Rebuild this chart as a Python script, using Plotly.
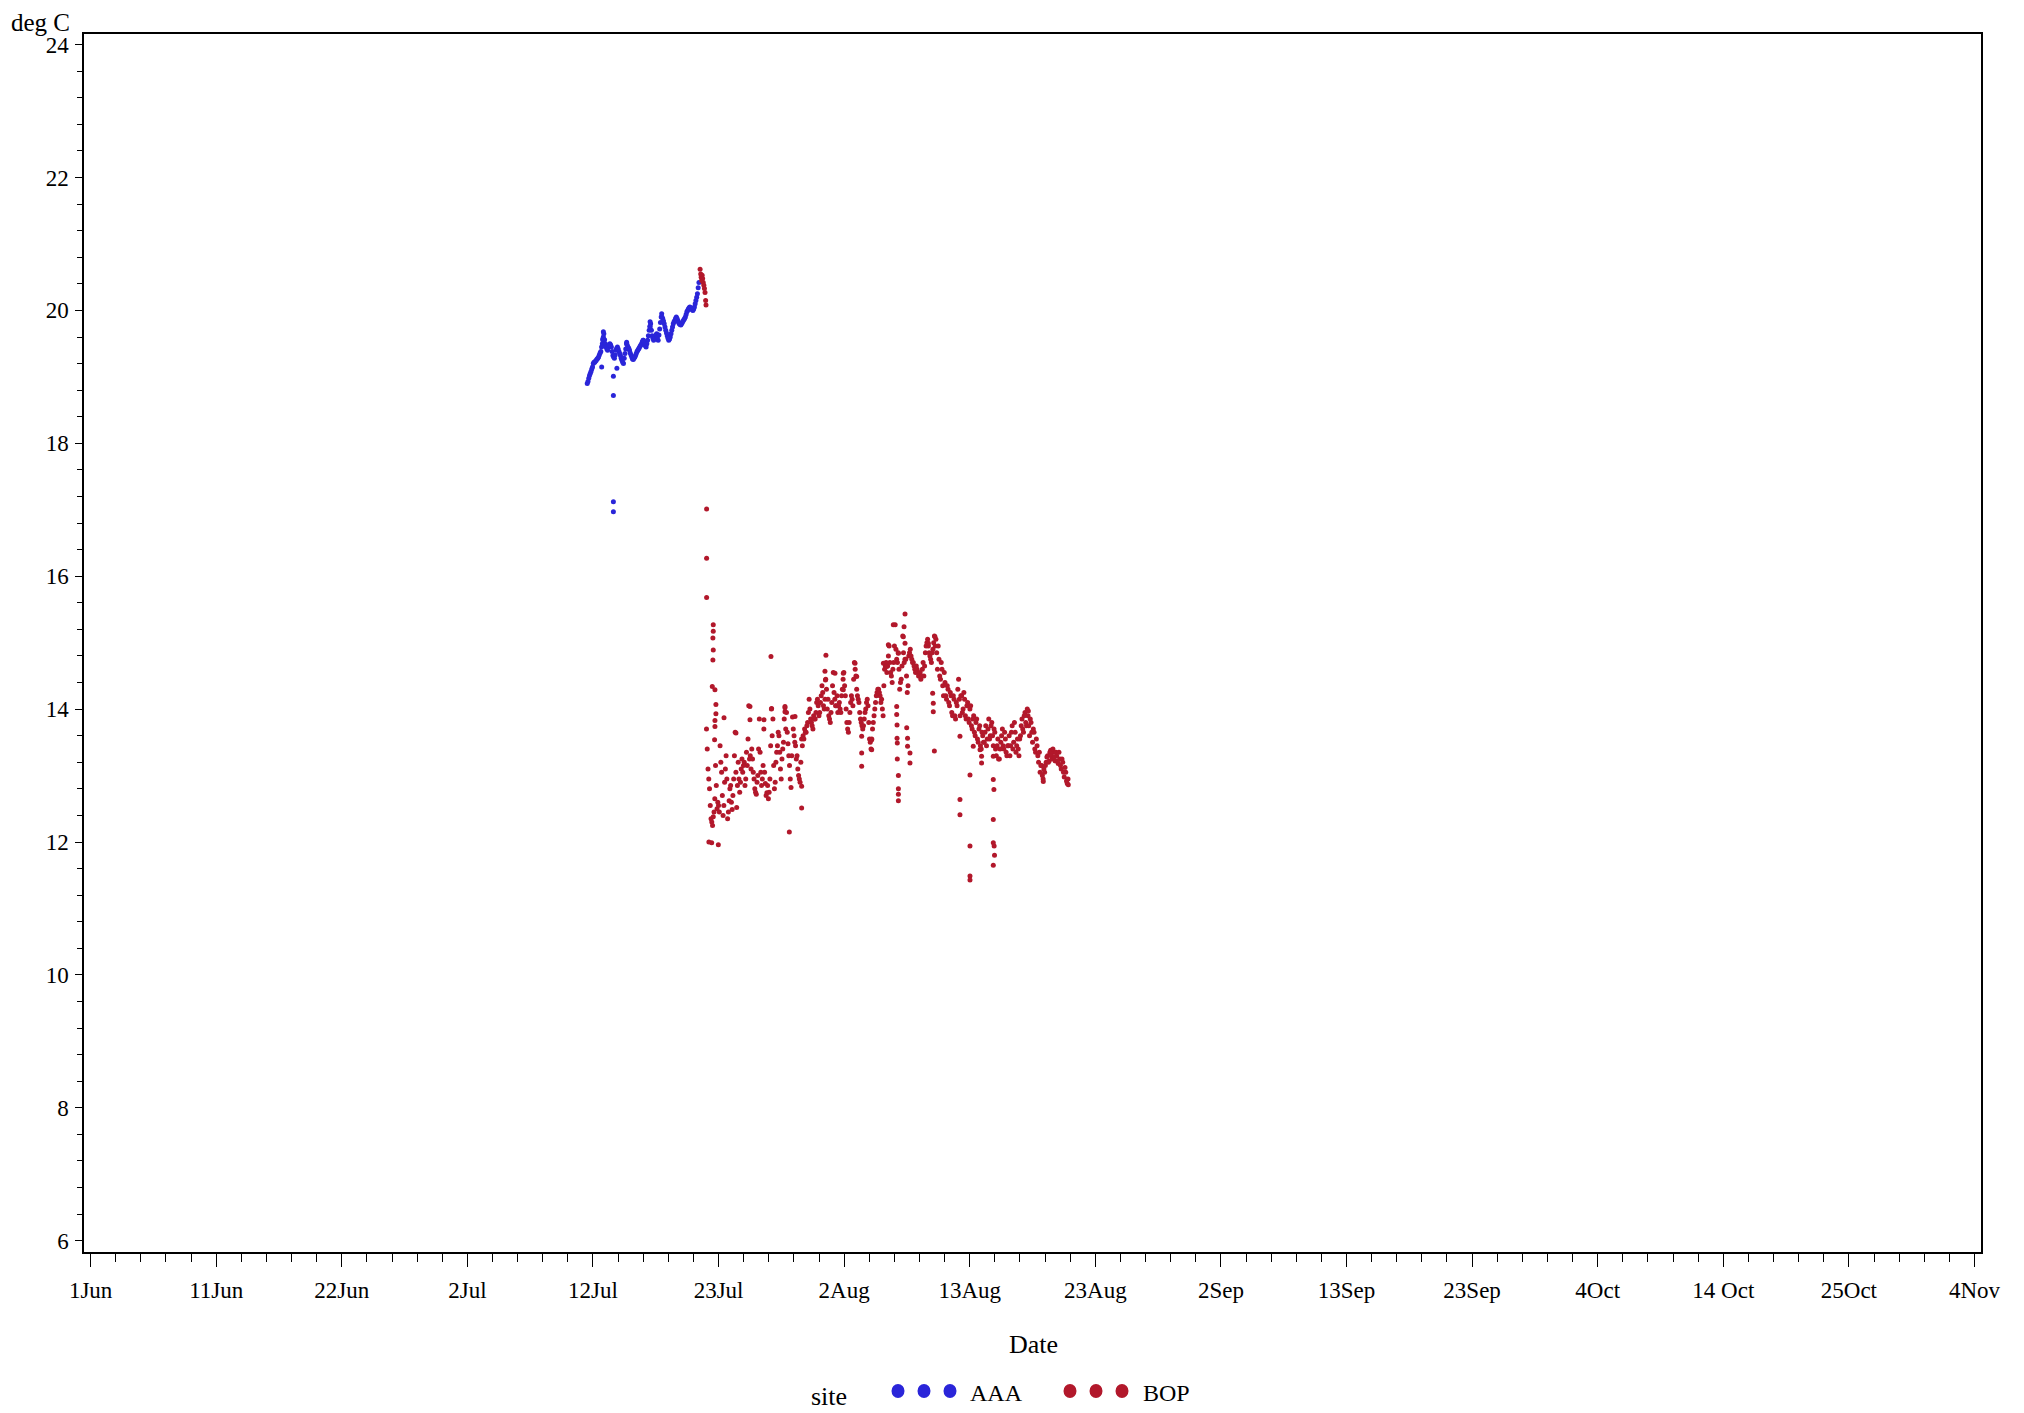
import pandas as pd
import plotly.graph_objects as go

# ---------------- data ----------------
BASE = pd.Timestamp("2015-06-01")
STEP_DAYS = 0.125          # 3-hourly logger readings (two interleaved logs)

# x-axis tick positions (days after 1 Jun) and their labels
tick_days = [0.0, 10.4, 20.8, 31.2, 41.6, 52.0, 62.4, 72.8, 83.2, 93.6,
             104.0, 114.4, 124.8, 135.2, 145.6, 156.0]
tick_labels = ["1Jun", "11Jun", "22Jun", "2Jul", "12Jul", "23Jul", "2Aug", "13Aug",
               "23Aug", "2Sep", "13Sep", "23Sep", "4Oct", "14 Oct", "25Oct", "4Nov"]
y_ticks = [6, 8, 10, 12, 14, 16, 18, 20, 22, 24]

# site AAA : 3-hourly readings starting day 41.125
aaa_start_day = 41.125
aaa_temp = [18.90, 18.98, 19.05, 19.12, 19.20, 19.22, 19.25,
            19.28, 19.33, 19.38, 19.50, 19.65, 19.50, 19.42, 19.45,
            19.50, 19.45, 19.32, 19.28, 19.40, 19.45, 19.38, 19.32,
            19.25, 19.20, 19.35, 19.50, 19.45, 19.40, 19.33, 19.27,
            19.28, 19.32, 19.38, 19.42, 19.46, 19.50, 19.55, 19.50,
            19.45, 19.55, 19.70, 19.80, 19.62, 19.55, 19.60, 19.65,
            19.55, 19.72, 19.90, 19.88, 19.80, 19.70, 19.62, 19.55,
            19.60, 19.70, 19.80, 19.85, 19.90, 19.85, 19.80, 19.78,
            19.82, 19.86, 19.90, 19.98, 20.02, 20.05, 20.03, 20.00,
            20.05, 20.15, 20.25, 20.42]
# site AAA : second 3-hourly log, offset by 1.5 h
aaa_start_day_b = 41.1875
aaa_temp_b = [18.93, 19.02, 19.08, 19.15, 19.22, 19.24, 19.27,
              19.30, 19.36, 19.45, 19.58, 19.56, 19.45, 19.40, 19.48,
              19.48, 19.38, 19.30, 19.33, 19.43, 19.42, 19.35, 19.28,
              19.22, 19.28, 19.42, 19.48, 19.43, 19.36, 19.30, 19.26,
              19.30, 19.35, 19.40, 19.44, 19.48, 19.53, 19.53, 19.47,
              19.50, 19.62, 19.76, 19.70, 19.58, 19.57, 19.63, 19.60,
              19.63, 19.82, 19.90, 19.84, 19.75, 19.66, 19.58, 19.57,
              19.65, 19.75, 19.83, 19.88, 19.88, 19.82, 19.79, 19.80,
              19.84, 19.88, 19.94, 20.00, 20.04, 20.04, 20.01, 20.02,
              20.10, 20.20, 20.34]
# AAA irregular readings (spikes / drops)
aaa_extra_day = [43.29, 43.29, 43.29, 43.29, 42.32, 43.58, 42.46, 42.46, 46.33, 46.33,
                 47.29, 45.77, 42.40, 44.39]
aaa_extra_temp = [19.01, 18.72, 17.12, 16.97, 19.15, 19.13, 19.68, 19.60, 19.83, 19.75,
                  19.95, 19.55, 19.56, 19.52]

# site BOP : 3-hourly readings starting day 51.0
bop_start_day = 51.0
bop_temp = [
    13.70, 13.10, 12.80, 12.35, 12.25, 12.45, 13.15, 12.50,   # 22 Jul
    12.55, 13.45, 13.05, 12.40, 12.90, 13.30, 12.35, 12.62,   # 23 Jul
    12.85, 12.49, 12.95, 13.65, 12.52, 13.20, 12.75, 13.10,
    13.05, 13.20, 12.95, 13.15, 14.05, 13.30, 13.40, 13.05,
    12.80, 12.72, 13.00, 13.85, 13.05, 12.95, 13.70, 12.88,
    12.74, 12.65, 12.95, 14.00, 13.85, 12.80, 13.20, 13.45,
    13.60, 13.10, 13.25, 13.50, 14.02, 13.95, 13.48, 13.15,
    12.82, 13.88, 13.60, 13.45, 13.30, 13.00, 12.90, 13.55,
    13.60, 13.70, 13.65, 13.80, 14.15, 13.85, 13.75, 13.90,
    13.85, 14.10, 14.05, 13.95, 14.20, 14.25, 14.00, 14.45,
    14.00, 13.90, 13.80, 14.10, 14.55, 14.15, 14.05, 13.95,   # 1 Aug
    14.10, 13.95, 14.30, 14.55, 14.20, 13.80, 13.65, 13.95,
    14.20, 14.05, 14.70, 14.50, 14.20, 14.10, 13.85, 13.75,
    13.75, 13.95, 14.10, 14.05, 13.55, 13.40, 13.70, 13.90,
    14.10, 14.25, 14.30, 14.20, 14.15, 13.90, 14.60, 14.70,
    14.65, 14.95, 14.55, 14.40, 14.70, 15.27, 14.75, 14.85,
    14.30, 14.45, 15.10, 14.70, 14.75, 14.25, 14.80, 14.90,
    14.75, 14.70, 14.60, 14.65, 14.55, 14.50, 14.45, 14.60,
    14.50, 14.85, 15.00, 14.95, 14.80, 14.70, 14.90, 15.10,
    15.05, 14.60, 14.75, 14.45, 14.60, 14.20, 14.40, 14.15,
    14.30, 14.05, 14.20, 13.90, 14.15, 13.85, 14.05, 14.45,   # 11 Aug
    13.90, 14.20, 14.00, 14.15, 13.85, 14.10, 13.80, 14.05,
    13.70, 13.90, 13.60, 13.85, 13.50, 13.75, 13.40, 13.60,
    13.50, 13.75, 13.55, 13.85, 13.60, 13.80, 13.45, 13.65,
    13.30, 13.55, 13.25, 13.50, 13.70, 13.40, 13.55, 13.30,
    13.45, 13.30, 13.65, 13.40, 13.80, 13.35, 13.55, 13.30,
    13.60, 13.85, 13.65, 13.95, 13.75, 13.90, 13.60, 13.80,
    13.50, 13.65, 13.35, 13.45, 13.20, 13.05, 13.15, 12.95,
    13.05, 13.20, 13.30, 13.22, 13.38, 13.25, 13.35, 13.22,
    13.30, 13.18, 13.25, 13.10, 13.20, 12.98, 13.05, 12.88,   # 20 Aug
]
# site BOP : second 3-hourly log, offset by 1.5 h
bop_start_day_b = 51.0625
bop_temp_b = [
    13.40, 12.95, 12.55, 12.30, 12.38, 12.65, 12.85, 12.60,   # 22 Jul
    12.45, 13.20, 12.70, 12.55, 13.10, 12.95, 12.45, 12.80,
    12.60, 12.70, 13.30, 13.05, 12.85, 12.95, 12.90, 13.25,
    13.15, 12.85, 13.35, 13.55, 13.25, 13.10, 13.25, 12.95,
    12.75, 12.90, 13.40, 13.35, 12.85, 13.15, 13.05, 12.70,
    12.85, 12.75, 13.45, 13.60, 13.15, 12.90, 13.35, 13.65,
    13.35, 12.95, 13.40, 13.85, 13.70, 13.65, 13.30, 12.95,
    13.30, 13.70, 13.50, 13.25, 13.10, 12.95, 13.20, 13.45,
    13.55, 13.65, 13.75, 13.95, 14.00, 13.80, 13.70, 13.85,
    13.95, 14.15, 13.90, 14.10, 14.35, 14.05, 14.15, 14.30,
    14.15, 13.85, 13.95, 14.35, 14.25, 14.05, 14.20, 14.05,   # 1 Aug
    14.00, 14.20, 14.45, 14.35, 14.00, 13.70, 13.80, 14.10,
    14.15, 14.45, 14.60, 14.30, 14.15, 13.95, 13.80, 13.70,
    13.85, 14.00, 14.15, 13.80, 13.50, 13.55, 13.80, 14.00,
    14.20, 14.30, 14.25, 14.10, 14.00, 14.35, 14.65, 14.55,
    14.80, 14.70, 14.50, 14.60, 14.95, 14.90, 14.70, 14.60,
    14.40, 14.65, 14.85, 14.75, 14.50, 14.35, 14.85, 14.80,
    14.70, 14.65, 14.55, 14.60, 14.50, 14.55, 14.50, 14.70,
    14.65, 14.95, 15.05, 14.85, 14.75, 14.85, 15.00, 14.95,
    14.85, 14.95, 14.50, 14.70, 14.35, 14.55, 14.20, 14.35,
    14.10, 14.25, 13.95, 14.20, 13.90, 14.10, 14.30, 14.15,   # 11 Aug
    14.20, 13.95, 14.25, 13.90, 14.05, 13.85, 14.00, 13.75,
    13.85, 13.65, 13.80, 13.55, 13.70, 13.45, 13.65, 13.50,
    13.65, 13.45, 13.70, 13.55, 13.75, 13.60, 13.70, 13.40,
    13.45, 13.25, 13.40, 13.60, 13.45, 13.65, 13.35, 13.45,
    13.60, 13.45, 13.75, 13.50, 13.65, 13.45, 13.40, 13.55,
    13.75, 13.70, 13.90, 13.80, 14.00, 13.75, 13.85, 13.65,
    13.70, 13.40, 13.55, 13.30, 13.35, 13.15, 13.00, 13.10,
    13.15, 13.28, 13.20, 13.35, 13.30, 13.40, 13.28, 13.35,
    13.22, 13.35, 13.15, 13.25, 13.05, 13.12, 12.92, 12.95,   # 20 Aug
]
# BOP irregular readings (deployment, spikes, drops)
bop_extra_day = [
    50.47, 50.52, 50.56, 50.60, 50.64, 50.68, 50.73, 50.78, 50.83, 50.88, 50.93, 50.96,
    51.01, 51.01, 51.01,
    51.56, 51.56, 51.53, 51.56, 51.53, 51.48, 51.70, 51.78, 51.78, 51.70, 51.70, 51.67,
    51.43, 51.98, 51.20,
    52.45, 53.44, 54.60, 54.60, 55.76, 56.39, 56.34, 57.50, 57.50, 57.86, 58.33, 58.88, 58.88,
    60.89, 60.81, 60.85,
    61.64, 62.33, 62.33, 63.30, 63.44, 63.85, 63.85, 63.85, 64.68, 64.68,
    65.65, 65.92, 66.06, 66.47, 66.89,
    66.75, 66.75, 66.78, 66.78, 66.80, 66.80, 66.89, 66.89, 66.89, 66.89,
    67.44, 67.36, 67.30, 67.44,
    67.58, 67.65, 67.65, 67.85, 67.85,
    69.37, 69.92, 69.73, 69.78, 69.78, 69.87,
    71.99, 71.99, 71.99,
    72.82, 72.82, 72.82, 72.82,
    73.09, 73.65, 73.78, 73.78,
    74.75, 74.75, 74.80, 74.75, 74.75, 74.82, 74.85, 74.75,
    77.65, 78.89, 80.96,
]
bop_extra_temp = [
    20.62, 20.55, 20.50, 20.45, 20.53, 20.48, 20.42, 20.38, 20.33, 20.27, 20.15, 20.08,
    17.01, 16.27, 15.68,
    15.27, 15.17, 15.07, 14.89, 14.74, 14.34, 14.29, 14.07, 13.93, 13.83, 13.74, 13.54,
    11.99, 11.96, 12.00,
    13.87, 13.64, 14.04, 13.84, 13.84, 14.01, 14.79, 14.04, 13.96, 12.15, 13.89, 12.51, 12.84,
    14.81, 14.57, 14.44,
    14.54, 14.54, 14.29, 14.69, 14.49, 13.59, 13.34, 13.14, 13.54, 13.39,
    14.69, 14.64, 14.97, 15.27, 14.84,
    14.04, 13.92, 13.76, 13.56, 13.49, 13.25, 13.00, 12.80, 12.72, 12.62,
    15.43, 15.24, 15.09, 14.99,
    13.72, 13.56, 13.44, 13.34, 13.19,
    14.99, 15.09, 14.24, 14.09, 13.96, 13.37,
    13.59, 12.64, 12.41,
    13.01, 11.94, 11.49, 11.43,
    13.44, 13.39, 13.29, 13.19,
    13.29, 12.94, 12.79, 12.34, 11.99, 11.94, 11.80, 11.65,
    13.97, 12.91, 12.86,
]

BLUE = "#2A25D9"
RED = "#B2182B"
FONT = "Liberation Serif"


def day_to_date(d):
    return BASE + pd.to_timedelta(d, unit="D")


def series_x(start, values):
    return [day_to_date(start + i * STEP_DAYS) for i in range(len(values))]


aaa_x = (series_x(aaa_start_day, aaa_temp) + series_x(aaa_start_day_b, aaa_temp_b)
         + [day_to_date(d) for d in aaa_extra_day])
aaa_y = aaa_temp + aaa_temp_b + aaa_extra_temp

bop_x = (series_x(bop_start_day, bop_temp) + series_x(bop_start_day_b, bop_temp_b)
         + [day_to_date(d) for d in bop_extra_day])
bop_y = bop_temp + bop_temp_b + bop_extra_temp

fig = go.Figure()
fig.add_trace(go.Scatter(x=aaa_x, y=aaa_y, mode="markers", name="AAA",
                         marker=dict(color=BLUE, size=5, line=dict(width=0)),
                         showlegend=False))
fig.add_trace(go.Scatter(x=bop_x, y=bop_y, mode="markers", name="BOP",
                         marker=dict(color=RED, size=5, line=dict(width=0)),
                         showlegend=False))

# figure geometry (pixels; page adds an 8 px body margin)
W, H = 2016, 1405
L, R, T, B = 76, 1973, 26, 1244
PW, PH = R - L, B - T


def px(xp):
    return (xp - L) / PW


def py(yp):
    return (B - yp) / PH


fig.update_layout(
    width=W, height=H, autosize=False,
    margin=dict(l=L, r=W - R, t=T, b=H - B, pad=0),
    paper_bgcolor="white", plot_bgcolor="white",
    font=dict(family=FONT, color="black"),
    showlegend=False,
)

fig.update_xaxes(
    type="date",
    range=[day_to_date(-0.547), day_to_date(156.54)],
    tickmode="array",
    tickvals=[day_to_date(d) for d in tick_days],
    ticktext=tick_labels,
    ticks="outside", ticklen=13, tickwidth=1.2, tickcolor="black",
    ticklabelstandoff=4,
    tickfont=dict(family=FONT, size=23, color="black"),
    showline=True, linecolor="black", linewidth=1.5, mirror=True,
    showgrid=False, zeroline=False,
    minor=dict(ticks="outside", ticklen=8, tickwidth=1.2, tickcolor="black",
               tickmode="linear", tick0=BASE, dtick=2.08 * 86400000, showgrid=False),
)
fig.update_yaxes(
    range=[5.83, 24.16],
    tickmode="array", tickvals=y_ticks, ticktext=[str(v) for v in y_ticks],
    ticks="outside", ticklen=7, tickwidth=1.2, tickcolor="black",
    ticklabelstandoff=2,
    tickfont=dict(family=FONT, size=23, color="black"),
    showline=True, linecolor="black", linewidth=1.5, mirror=True,
    showgrid=False, zeroline=False,
    minor=dict(ticks="outside", ticklen=5, tickwidth=1.2, tickcolor="black",
               tickmode="linear", tick0=6, dtick=0.4, showgrid=False),
)

ann = [
    dict(text="deg C", x=px(32), y=py(15), size=25, xanchor="center"),
    dict(text="Date", x=px(1025), y=py(1336), size=26, xanchor="center"),
    dict(text="site", x=px(821), y=py(1388), size=26, xanchor="center"),
    dict(text="AAA", x=px(960), y=py(1385), size=24, xanchor="left"),
    dict(text="BOP", x=px(1133), y=py(1385), size=24, xanchor="left"),
]
for a in ann:
    fig.add_annotation(text=a["text"], xref="paper", yref="paper", x=a["x"], y=a["y"],
                       xanchor=a["xanchor"], yanchor="middle", showarrow=False,
                       font=dict(family=FONT, size=a["size"], color="black"))

# legend swatches (three dots per site, as in the original key)
for cx_list, col in (([890, 916, 942], BLUE), ([1062, 1088, 1114], RED)):
    for cx in cx_list:
        fig.add_shape(type="circle", xref="paper", yref="paper",
                      xsizemode="pixel", ysizemode="pixel",
                      xanchor=px(cx), yanchor=py(1383),
                      x0=-6.5, x1=6.5, y0=-7, y1=7,
                      fillcolor=col, line=dict(width=0))

fig.write_html("out.html")
